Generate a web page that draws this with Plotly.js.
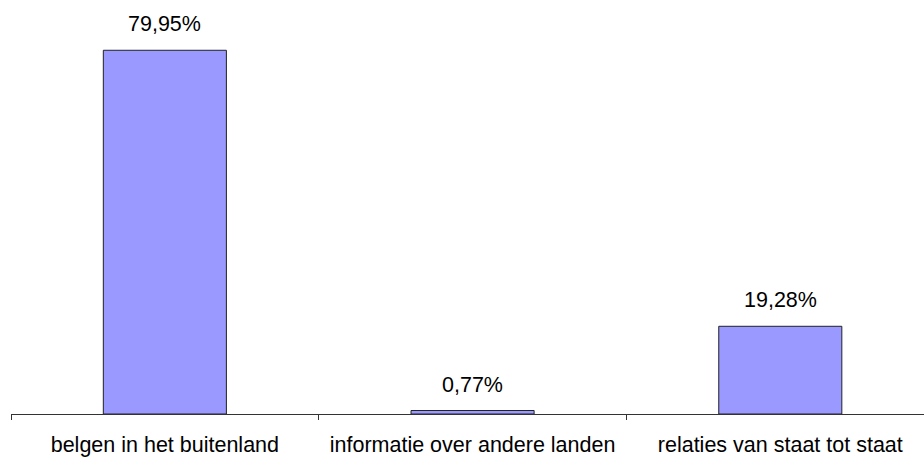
<!DOCTYPE html>
<html>
<head>
<meta charset="utf-8">
<script src="https://cdn.plot.ly/plotly-3.0.1.min.js"></script>
<style>html,body{margin:0;padding:0;overflow:hidden;background:#fff;}</style>
</head>
<body>
<div id="chart" style="width:924px;height:457px;"></div>
<script>
const categories = ["belgen in het buitenland", "informatie over andere landen", "relaties van staat tot staat"];
const values = [79.95, 0.77, 19.28];
const labels = ["79,95%", "0,77%", "19,28%"];

const trace = {
  type: "bar",
  x: categories,
  y: values,
  width: 0.4,
  marker: {color: "#9999FF", line: {color: "#222222", width: 1}},
  hoverinfo: "none"
};

const annotations = categories.map((c, i) => ({
  x: c, y: values[i], text: labels[i], showarrow: false,
  xref: "x", yref: "y", yanchor: "middle", yshift: 26,
  font: {family: "Liberation Sans, Arial, sans-serif", size: 21.5, color: "#000"}
}));

const layout = {
  width: 924, height: 457,
  margin: {l: 11, r: 0, t: 0, b: 43, pad: 0},
  paper_bgcolor: "#fff", plot_bgcolor: "#fff",
  font: {family: "Liberation Sans, Arial, sans-serif", size: 21.5, color: "#000"},
  showlegend: false,
  xaxis: {
    type: "category",
    range: [-0.5, 2.467],
    showline: true, linecolor: "#333", linewidth: 1,
    ticks: "outside", tickson: "boundaries", ticklen: 5, tickcolor: "#333",
    ticklabelstandoff: 11,
    showgrid: false, zeroline: false,
    tickfont: {size: 21.5, color: "#000"}
  },
  yaxis: {visible: false, range: [0, 91], showgrid: false, zeroline: false},
  annotations: annotations
};

Plotly.newPlot("chart", [trace], layout, {displayModeBar: false, staticPlot: true});
</script>
</body>
</html>
